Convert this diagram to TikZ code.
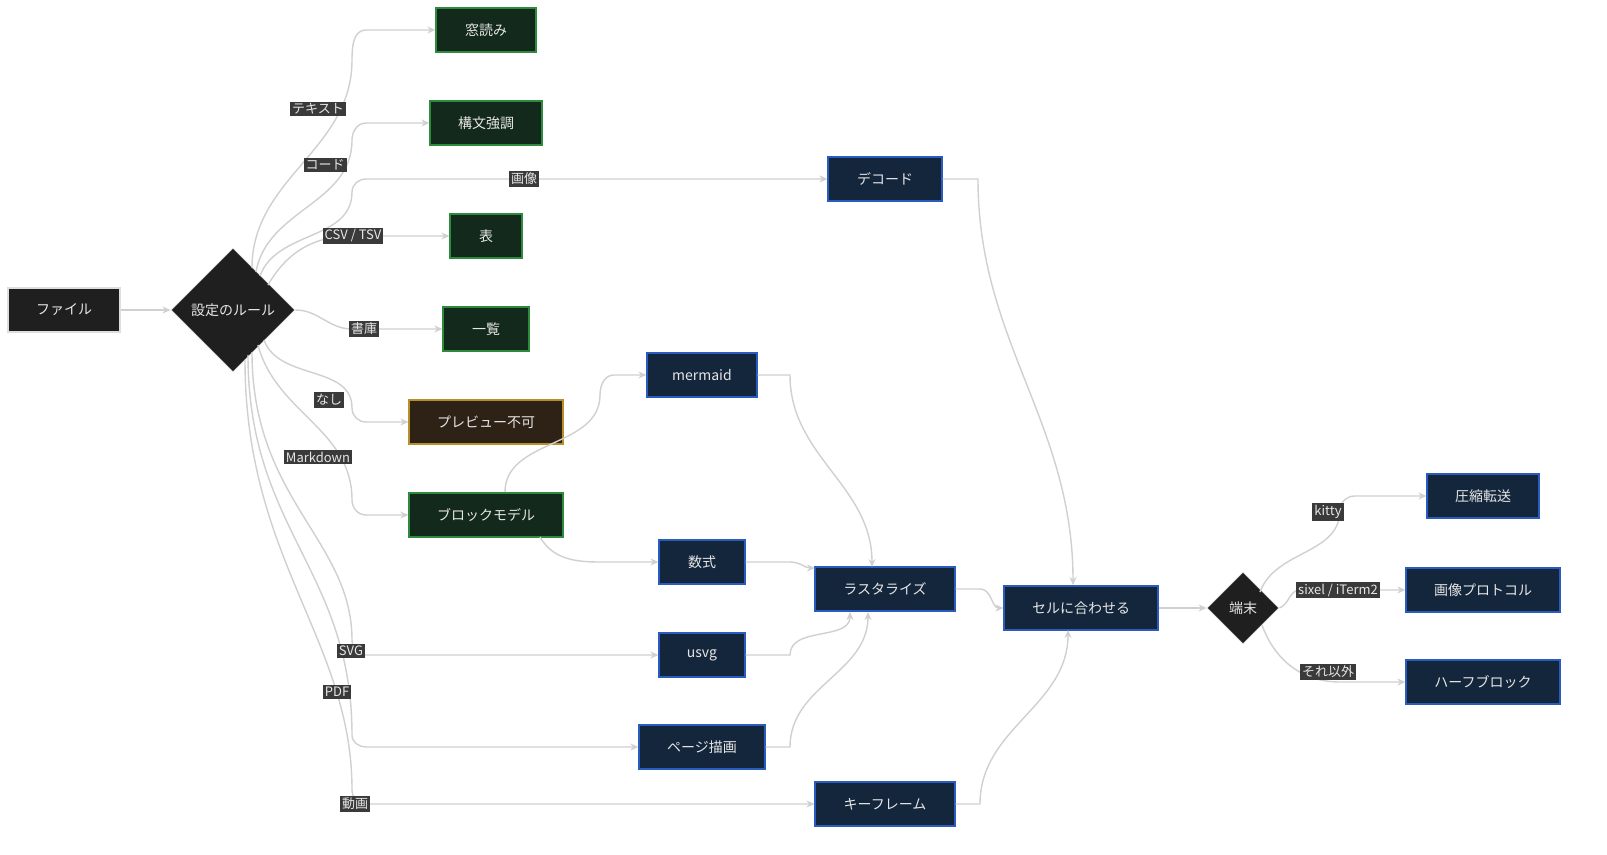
\documentclass[tikz,border=0pt]{standalone}
\usepackage{fontspec}
\setmainfont{Noto Sans CJK JP}
\usetikzlibrary{arrows.meta,shapes.geometric}
\definecolor{lineg}{HTML}{D0D0D0}
\definecolor{darkf}{HTML}{1F1F1F}
\definecolor{greenf}{HTML}{13291B}
\definecolor{greend}{HTML}{2E8B3E}
\definecolor{bluef}{HTML}{14263B}
\definecolor{blued}{HTML}{2A5CC0}
\definecolor{brownf}{HTML}{2E2216}
\definecolor{brownd}{HTML}{B8902A}
\definecolor{lblf}{HTML}{3A3A3A}
\definecolor{txt}{HTML}{E6E6E6}

\begin{document}
\begin{tikzpicture}[x=0.5pt,y=-0.5pt,
    box/.style={draw, rectangle, line width=0.6pt, minimum height=22pt, text=txt, font=\fontsize{7}{8}\selectfont},
    plain/.style={box, fill=darkf, draw=lineg!70},
    green/.style={box, fill=greenf, draw=greend},
    blue/.style={box, fill=bluef, draw=blued},
    brown/.style={box, fill=brownf, draw=brownd},
    rulebox/.style={draw=lineg!40, fill=darkf, diamond, aspect=1, text=txt, inner sep=0pt, font=\fontsize{7}{8}\selectfont},
    lbl/.style={fill=lblf, text=txt, inner sep=1pt, font=\fontsize{6.5}{7}\selectfont},
    edge/.style={draw=lineg, line width=0.7pt, -{Stealth[length=4pt,width=3.5pt]}}
    ]
    \fill[white] (0,0) rectangle (1607,855);
    \useasboundingbox (0,0) rectangle (1607,855);

    % Nodes with manual coordinates
    \node[plain, minimum width=56pt] (file) at (64,310) {ファイル};
    \node[rulebox, minimum size=62pt] (rule) at (233,310) {設定のルール};
    \node[green, minimum width=50pt] (mado) at (486,30) {窓読み};
    \node[green, minimum width=56pt] (kobun) at (486,123) {構文強調};
    \node[blue, minimum width=57pt] (dec) at (885,179) {デコード};
    \node[green, minimum width=36pt] (hyo) at (486,236) {表};
    \node[green, minimum width=43pt] (ichiran) at (486,329) {一覧};
    \node[blue, minimum width=55pt] (mermaid) at (702,375) {mermaid};
    \node[brown, minimum width=77pt] (fuka) at (486,422) {プレビュー不可};
    \node[green, minimum width=77pt] (block) at (486,515) {ブロックモデル};
    \node[blue, minimum width=43pt] (shiki) at (702,562) {数式};
    \node[blue, minimum width=70pt] (ras) at (885,589) {ラスタライズ};
    \node[blue, minimum width=77pt] (cell) at (1081,608) {セルに合わせる};
    \node[rulebox, minimum size=36pt] (term) at (1243,608) {端末};
    \node[blue, minimum width=56pt] (comp) at (1483,496) {圧縮転送};
    \node[blue, minimum width=77pt] (proto) at (1483,590) {画像プロトコル};
    \node[blue, minimum width=77pt] (half) at (1483,682) {ハーフブロック};
    \node[blue, minimum width=43pt] (usvg) at (702,655) {usvg};
    \node[blue, minimum width=63pt] (page) at (702,747) {ページ描画};
    \node[blue, minimum width=70pt] (key) at (885,804) {キーフレーム};

    % Arrows from the rule
    \draw[edge] (file) -- (rule);
    \draw[edge] (252,268) to[out=90,in=-90] (352,60) to[out=90,in=180] (366,30) -- (mado.west);
    \draw[edge] (256,272) to[out=80,in=-90] (352,140) to[out=90,in=180] (366,123) -- (kobun.west);
    \draw[edge] (260,276) to[out=70,in=-90] (352,192) to[out=90,in=180] (366,179) -- (dec.west);
    \draw[edge] (268,285) to[out=60,in=180] (352,236) -- (hyo.west);
    \draw[edge] (rule.east) to[out=0,in=180] (352,329) -- (ichiran.west);
    \draw[edge] (264,340) to[out=-70,in=90] (352,408) to[out=-90,in=180] (366,422) -- (fuka.west);
    \draw[edge] (258,345) to[out=-75,in=90] (352,500) to[out=-90,in=180] (366,515) -- (block.west);
    \draw[edge] (252,352) .. controls (252,500) and (352,540) .. (352,640) to[out=-90,in=180] (362,655) -- (usvg.west);
    \draw[edge] (248,355) .. controls (248,530) and (352,570) .. (352,735) to[out=-90,in=180] (366,747) -- (page.west);
    \draw[edge] (245,360) .. controls (245,560) and (352,640) .. (352,790) to[out=-90,in=180] (366,804) -- (key.west);

    % Arrows
    \draw[edge] (505,492) to[out=90,in=-90] (600,395) to[out=90,in=180] (614,375) -- (mermaid.west);
    \draw[edge] (540,537) to[out=-60,in=180] (600,562) -- (shiki.west);
    \draw[edge] (mermaid.east) -- (790,375) to[out=-90,in=90] (872,567);
    \draw[edge] (shiki.east) -- (790,562) to[out=0,in=180] (815,568);
    \draw[edge] (usvg.east) -- (790,655) to[out=90,in=-90] (850,612);
    \draw[edge] (page.east) -- (790,747) to[out=90,in=-90] (868,612);
    \draw[edge] (dec.east) -- (978,179) to[out=-90,in=90] (1073,585);
    \draw[edge] (ras.east) -- (980,589) to[out=0,in=180] (cell.west);
    \draw[edge] (key.east) -- (980,804) to[out=90,in=-90] (1068,630);
    \draw[edge] (cell) -- (term);
    \draw[edge] (1260,592) to[out=70,in=-90] (1340,510) to[out=90,in=180] (1355,496) -- (comp.west);
    \draw[edge] (term.east) to[out=20,in=180] (1300,590) -- (proto.west);
    \draw[edge] (1262,625) to[out=-70,in=180] (1340,682) -- (half.west);

    % Labels
    \node[lbl] (ltext) at (318,109) {テキスト};
    \node[lbl] (lcode) at (325,165) {コード};
    \node[lbl] (limg) at (524,179) {画像};
    \node[lbl] (lcsv) at (353,236) {CSV / TSV};
    \node[lbl] (larc) at (364,329) {書庫};
    \node[lbl] (lnone) at (329,400) {なし};
    \node[lbl] (lmd) at (318,457) {Markdown};
    \node[lbl] (lsvg) at (351,651) {SVG};
    \node[lbl] (lpdf) at (337,692) {PDF};
    \node[lbl] (lvid) at (355,804) {動画};
    \node[lbl] (lkitty) at (1328,512) {kitty};
    \node[lbl] (lsixel) at (1338,590) {sixel / iTerm2};
    \node[lbl] (lother) at (1328,672) {それ以外};
\end{tikzpicture}
\end{document}
